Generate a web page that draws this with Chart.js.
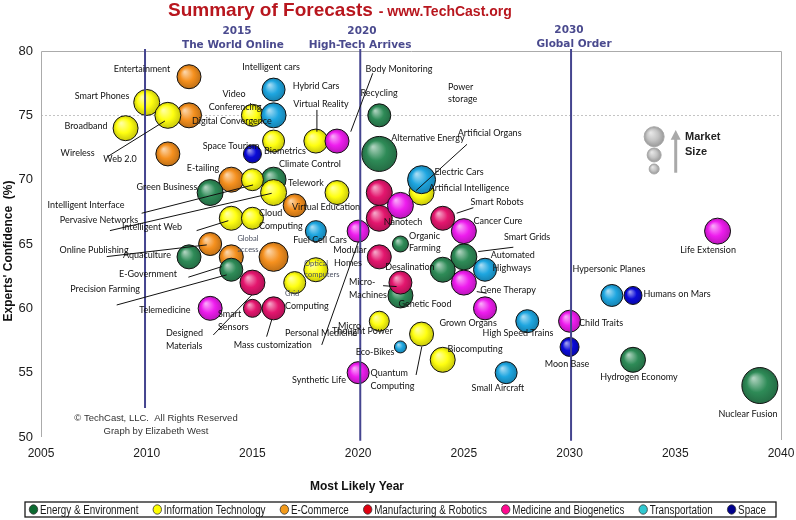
<!DOCTYPE html>
<html lang="en">
<head>
<meta charset="UTF-8">
<title>Summary of Forecasts - TechCast</title>
<style>
    html, body { margin: 0; padding: 0; background: #fff; }
    #wrap { width: 796px; height: 520px; }
</style>
</head>
<body>
<div id="wrap"><canvas id="forecastChart" width="796" height="520"></canvas></div>

<script src="https://cdn.jsdelivr.net/npm/chart.js@4"></script>
<script>
// [technology, most likely year, experts' confidence %, market size (bubble radius)]
const energy = [
    ['Climate Control', 2016, 70, 12.5],
    ['Green Business', 2013, 69, 13],
    ['Aquaculture', 2012, 64, 12],
    ['Precision Farming', 2014, 63, 11.5],
    ['Recycling', 2021, 75, 11.5],
    ['Alternative Energy', 2021, 72, 17.5],
    ['Organic Farming', 2022, 65, 8],
    ['Smart Grids', 2025, 64, 13],
    ['Desalination', 2024, 63, 12.5],
    ['Genetic Food', 2022, 61, 12.5],
    ['Hydrogen Economy', 2033, 56, 12.5],
    ['Nuclear Fusion', 2039, 54, 18]
];
const infoTech = [
    ['Broadband', 2009, 74, 12.5],
    ['Smart Phones', 2010, 76, 13],
    ['Web 2.0', 2011, 75, 13],
    ['Video Conferencing', 2015, 75, 11],
    ['Biometrics', 2016, 73, 11],
    ['Virtual Reality', 2018, 73, 12],
    ['Intelligent Interface', 2015, 70, 11],
    ['Pervasive Networks', 2016, 69, 13],
    ['Thought Power', 2019, 69, 12],
    ['Intelligent Web', 2014, 67, 12],
    ['Cloud Computing', 2015, 67, 11],
    ['Optical Computers', 2018, 63, 12],
    ['Grid Computing', 2017, 62, 11],
    ['Artificial Intelligence', 2023, 69, 12.5],
    ['Micro Power', 2021, 59, 10],
    ['Quantum Computing', 2023, 58, 12],
    ['Biocomputing', 2024, 56, 12.5]
];
const eCommerce = [
    ['Entertainment', 2012, 78, 12],
    ['Digital Convergence', 2012, 75, 12.5],
    ['Wireless', 2011, 72, 12],
    ['E-tailing', 2014, 70, 12.5],
    ['Virtual Education', 2017, 68, 11.5],
    ['Online Publishing', 2013, 65, 11.5],
    ['E-Government', 2014, 64, 12],
    ['Global Access', 2016, 64, 14.5]
];
const manufacturing = [
    ['Designed Materials', 2015, 62, 12.5],
    ['Smart Sensors', 2015, 60, 9],
    ['Mass Customization', 2016, 60, 11.5],
    ['Intelligent Machines', 2021, 69, 13],
    ['Nanotech', 2021, 67, 13],
    ['Smart Robots', 2024, 67, 12],
    ['Modular Homes', 2021, 64, 12],
    ['Micro-Machines', 2022, 62, 11.5]
];
const medicine = [
    ['Body Monitoring', 2019, 73, 12],
    ['Telemedicine', 2013, 60, 12],
    ['Artificial Organs', 2022, 68, 13],
    ['Personal Medicine', 2020, 66, 11],
    ['Cancer Cure', 2025, 66, 12.5],
    ['Gene Therapy', 2025, 62, 12.5],
    ['Grown Organs', 2026, 60, 11.5],
    ['Synthetic Life', 2020, 55, 11],
    ['Life Extension', 2037, 66, 13],
    ['Child Traits', 2030, 59, 11]
];
const transport = [
    ['Intelligent Cars', 2016, 77, 11.5],
    ['Hybrid Cars', 2016, 75, 12.5],
    ['Fuel Cell Cars', 2018, 66, 10.5],
    ['Electric Cars', 2023, 70, 14],
    ['Automated Highways', 2026, 63, 11.5],
    ['High Speed Trains', 2028, 59, 11.5],
    ['Eco-Bikes', 2022, 57, 6],
    ['Small Aircraft', 2027, 55, 11],
    ['Hypersonic Planes', 2032, 61, 11]
];
const space = [
    ['Space Tourism', 2015, 72, 9],
    ['Humans on Mars', 2033, 61, 9],
    ['Moon Base', 2030, 57, 9.5]
];
// "Market Size" key bubbles
const marketKey = [['large', 2034, 73.34, 10], ['medium', 2034, 71.92, 7], ['small', 2034, 70.83, 5]];

const categories = ['Energy & Environment', 'Information Technology', 'E-Commerce',
    'Manufacturing & Robotics', 'Medicine and Biogenetics', 'Transportation', 'Space'];
const seriesRows = [energy, infoTech, eCommerce, manufacturing, medicine, transport, space];
const bubbleColors = ['#2e8b57', '#ffff10', '#f5901e', '#e4166e', '#ee1cee', '#1ea6e0', '#0a0ad8'];
const legendColors = ['#0b6a30', '#ffff00', '#f39a1a', '#e00010', '#ff0a90', '#30c8d0', '#00008e'];
const drawOrder = [5, 4, 6, 3, 2, 1, 0];

const yearTicks = [2005, 2010, 2015, 2020, 2025, 2030, 2035, 2040];
const confTicks = [50, 55, 60, 65, 70, 75, 80];

// text annotations: [text, year, confidence]
const labels = [
    ['Entertainment', 2009.78, 78.6], ['Intelligent cars', 2015.88, 78.78], ['Smart Phones', 2007.89, 76.5],
    ['Hybrid Cars', 2018.01, 77.28], ['Video', 2014.13, 76.66], ['Conferencing', 2014.18, 75.67],
    ['Virtual Reality', 2018.24, 75.91], ['Broadband', 2007.13, 74.2], ['Digital Convergence', 2014.03, 74.58],
    ['Wireless', 2006.73, 72.05], ['Web 2.0', 2008.74, 71.61], ['Space Tourism', 2013.99, 72.64],
    ['Biometrics', 2016.54, 72.23], ['Climate Control', 2017.72, 71.2], ['E-tailing', 2012.66, 70.93],
    ['Body Monitoring', 2021.93, 78.6], ['Recycling', 2020.99, 76.76], ['Alternative Energy', 2023.3, 73.22],
    ['Artificial Organs', 2026.22, 73.61], ['Electric Cars', 2024.77, 70.62], ['Artificial Intelligence', 2025.24, 69.33],
    ['Smart Robots', 2026.57, 68.24], ['Green Business', 2010.96, 69.41], ['Telework', 2017.53, 69.72],
    ['Intelligent Interface', 2007.13, 68.03], ['Virtual Education', 2018.48, 67.86], ['Pervasive Networks', 2007.74, 66.87],
    ['Intelligent Web', 2010.25, 66.3], ['Fuel Cell Cars', 2018.2, 65.31], ['Online Publishing', 2007.51, 64.54],
    ['Aquaculture', 2010.01, 64.15], ['Modular', 2019.61, 64.54], ['Homes', 2019.52, 63.5],
    ['E-Government', 2010.06, 62.67], ['Precision Farming', 2008.03, 61.48], ['Telemedicine', 2010.86, 59.88],
    ['Mass customization', 2015.96, 57.16], ['Nanotech', 2022.12, 66.69], ['Cancer Cure', 2026.61, 66.81],
    ['Smart Grids', 2027.99, 65.57], ['Desalination', 2022.45, 63.24], ['Gene Therapy', 2027.09, 61.38],
    ['Genetic Food', 2023.16, 60.34], ['Grown Organs', 2025.2, 58.89], ['High Speed Trains', 2027.56, 58.11],
    ['Child Traits', 2031.49, 58.89], ['Eco-Bikes', 2020.8, 56.59], ['Biocomputing', 2025.53, 56.82],
    ['Synthetic Life', 2018.15, 54.44], ['Small Aircraft', 2026.61, 53.79], ['Moon Base', 2029.88, 55.66],
    ['Life Extension', 2036.55, 64.54], ['Hypersonic Planes', 2031.86, 63.04], ['Humans on Mars', 2035.08, 61.12],
    ['Hydrogen Economy', 2033.28, 54.65], ['Nuclear Fusion', 2038.44, 51.77]
];
// left-aligned annotations
const leftLabels = [
    ['Power', 2024.25, 77.23], ['storage', 2024.25, 76.25], ['Cloud', 2015.31, 67.44], ['Computing', 2015.31, 66.43],
    ['Micro-', 2019.57, 62.07], ['Machines', 2019.57, 61.04], ['Computing', 2016.54, 60.21],
    ['Smart', 2013.37, 59.56], ['Sensors', 2013.37, 58.58], ['Designed', 2010.91, 58.07], ['Materials', 2010.91, 57.1],
    ['Personal Medicine', 2016.54, 58.07], ['Micro', 2019.05, 58.63], ['Thought Power', 2018.76, 58.24],
    ['Organic', 2022.41, 65.65], ['Farming', 2022.41, 64.67], ['Automated', 2026.27, 64.15], ['Highways', 2026.36, 63.16],
    ['Quantum', 2020.59, 54.96], ['Computing', 2020.59, 53.92]
];
const smallLabels = [
    ['Global', 2014.79, 65.45, 'center'], ['access', 2014.79, 64.54, 'center'],
    ['Optical', 2018.01, 63.5, 'center'], ['computers', 2018.29, 62.6, 'center'], ['Grid', 2016.54, 61.12, 'left']
];
// leader lines: [year1, conf1, year2, conf2]
const leaders = [
    [2008.15, 71.79, 2010.86, 74.56], [2020.69, 78.27, 2019.65, 73.73], [2018.05, 75.42, 2018.05, 73.73],
    [2025.15, 72.75, 2022.74, 69.15], [2009.76, 67.39, 2015.03, 69.59], [2008.26, 66.04, 2015.91, 68.94],
    [2012.36, 66.04, 2013.86, 66.81], [2008.11, 64.02, 2012.84, 64.93], [2011.97, 62.42, 2013.55, 63.24],
    [2008.58, 60.26, 2013.78, 62.6], [2013.15, 57.93, 2014.97, 61.04], [2015.67, 57.8, 2015.91, 59.1],
    [2018.28, 57.16, 2020.01, 65.18], [2021.18, 61.76, 2021.82, 61.69], [2024.66, 67.39, 2025.45, 67.82],
    [2025.68, 64.41, 2027.34, 64.75], [2025.61, 61.3, 2026.08, 61.17], [2022.74, 54.82, 2023.01, 57.02]
];
// era divider lines [year, lower end] and headings
const eraLines = [[2009.92, 52.26], [2020.1, 49.7], [2030.07, 49.7]];
const eraText = [
    ['2015', 2014.27, 81.55], ['The World Online', 2014.08, 80.47],
    ['2020', 2020.18, 81.55], ['High-Tech Arrives', 2020.09, 80.47],
    ['2030', 2029.97, 81.63], ['Global Order', 2030.21, 80.54]
];

const LABEL_FONT = '9px Lato, "Open Sans", sans-serif';
const SMALL_FONT = '7.5px Lato, "Open Sans", sans-serif';
const LEGEND_FONT = '12px "Liberation Sans", Arial, sans-serif';
const LEGEND_SQUEEZE = 0.82;

function shade(hex, amt) {
    const n = parseInt(hex.slice(1), 16);
    const t = amt < 0 ? 0 : 255, p = Math.abs(amt);
    const c = [n >> 16, (n >> 8) & 255, n & 255].map(v => Math.round((t - v) * p + v));
    return 'rgb(' + c.join(',') + ')';
}

function ballFill(base) {
    return function (ctx) {
        if (ctx.type !== 'data') return base;
        const ch = ctx.chart, raw = ctx.raw;
        const xs = ch.scales.x, ys = ch.scales.y;
        if (!xs || !ys || !raw) return base;
        const x = xs.getPixelForValue(raw.x), y = ys.getPixelForValue(raw.y), r = raw.r;
        if (!isFinite(x) || !isFinite(y) || !(r > 0)) return base;
        const g = ch.ctx.createRadialGradient(x - r * 0.35, y - r * 0.4, r * 0.05, x, y, r);
        g.addColorStop(0, shade(base, 0.6));
        g.addColorStop(0.55, base);
        g.addColorStop(1, shade(base, -0.22));
        return g;
    };
}

const toPoints = rows => rows.map(r => ({ x: r[1], y: r[2], r: r[3], name: r[0] }));

const datasets = seriesRows.map((rows, i) => ({
    label: categories[i],
    data: toPoints(rows),
    backgroundColor: ballFill(bubbleColors[i]),
    borderColor: '#111',
    borderWidth: 1,
    order: drawOrder[i]
}));
datasets.push({
    label: 'Market Size',
    data: toPoints(marketKey),
    backgroundColor: ballFill('#c4c4c4'),
    borderColor: '#a8a8a8',
    borderWidth: 1,
    order: 7
});

const backdrop = {
    id: 'backdrop',
    beforeDatasetsDraw(chart) {
        const { ctx, chartArea: a, scales: { y } } = chart;
        ctx.save();
        ctx.strokeStyle = '#c4c4c4';
        ctx.setLineDash([2, 2]);
        ctx.lineWidth = 1;
        const y75 = Math.round(y.getPixelForValue(75)) + 0.5;
        ctx.beginPath(); ctx.moveTo(a.left, y75); ctx.lineTo(a.right, y75); ctx.stroke();
        ctx.setLineDash([]);
        ctx.strokeStyle = '#ababab';
        ctx.beginPath();
        ctx.moveTo(a.left + 0.5, a.bottom);
        ctx.lineTo(a.left + 0.5, a.top + 0.5);
        ctx.lineTo(a.right + 0.5, a.top + 0.5);
        ctx.lineTo(a.right + 0.5, a.bottom + 3);
        ctx.stroke();
        ctx.restore();
    }
};

const annotate = {
    id: 'annotate',
    afterDatasetsDraw(chart) {
        const { ctx, scales: { x, y } } = chart;
        const px = v => x.getPixelForValue(v), py = v => y.getPixelForValue(v);
        ctx.save();

        // era divider lines
        ctx.strokeStyle = '#45458f';
        ctx.lineWidth = 2;
        eraLines.forEach(([yr, low]) => {
            ctx.beginPath(); ctx.moveTo(px(yr), py(80.15)); ctx.lineTo(px(yr), py(low)); ctx.stroke();
        });
        ctx.fillStyle = '#4a4a8e';
        ctx.font = 'bold 10.5px "DejaVu Sans", Verdana, sans-serif';
        ctx.textAlign = 'center';
        ctx.textBaseline = 'middle';
        eraText.forEach(([t, yr, c]) => ctx.fillText(t, px(yr), py(c)));

        // Market Size arrow
        ctx.strokeStyle = '#a9a9a9';
        ctx.fillStyle = '#a9a9a9';
        ctx.lineWidth = 3;
        ctx.beginPath(); ctx.moveTo(px(2035.02), py(70.54)); ctx.lineTo(px(2035.02), py(73.3)); ctx.stroke();
        ctx.beginPath();
        ctx.moveTo(px(2035.02), py(73.86));
        ctx.lineTo(px(2035.02) - 5, py(73.1));
        ctx.lineTo(px(2035.02) + 5, py(73.1));
        ctx.closePath(); ctx.fill();
        ctx.fillStyle = '#222';
        ctx.font = 'bold 11px "Liberation Sans", Arial, sans-serif';
        ctx.textAlign = 'left';
        ctx.fillText('Market', px(2035.46), py(73.34));
        ctx.fillText('Size', px(2035.46), py(72.18));

        // leader lines
        ctx.strokeStyle = '#111';
        ctx.lineWidth = 1;
        leaders.forEach(([x1, y1, x2, y2]) => {
            ctx.beginPath(); ctx.moveTo(px(x1), py(y1)); ctx.lineTo(px(x2), py(y2)); ctx.stroke();
        });

        // technology labels
        ctx.fillStyle = '#111';
        ctx.font = LABEL_FONT;
        ctx.textAlign = 'center';
        labels.forEach(([t, yr, c]) => ctx.fillText(t, px(yr), py(c)));
        ctx.textAlign = 'left';
        leftLabels.forEach(([t, yr, c]) => ctx.fillText(t, px(yr), py(c)));
        ctx.fillStyle = '#4a5060';
        ctx.font = SMALL_FONT;
        smallLabels.forEach(([t, yr, c, al]) => { ctx.textAlign = al; ctx.fillText(t, px(yr), py(c)); });

        // copyright
        ctx.fillStyle = '#333';
        ctx.font = '9.5px "Liberation Sans", Arial, sans-serif';
        ctx.textAlign = 'center';
        ctx.fillText('\u00A9 TechCast, LLC.  All Rights Reserved', px(2010.44), py(51.48));
        ctx.fillText('Graph by Elizabeth West', px(2010.44), py(50.4));
        ctx.restore();
    },
    afterDraw(chart) {
        const { ctx } = chart;
        ctx.save();
        // title
        ctx.textBaseline = 'alphabetic';
        ctx.textAlign = 'left';
        ctx.fillStyle = '#b8161e';
        ctx.font = 'bold 19px "Liberation Sans", Arial, sans-serif';
        ctx.fillText('Summary of Forecasts', 168, 16);
        const tw = ctx.measureText('Summary of Forecasts').width;
        ctx.font = 'bold 14px "Liberation Sans", Arial, sans-serif';
        ctx.fillText(' - www.TechCast.org', 168 + tw + 2, 16);

        // axis titles
        ctx.fillStyle = '#111';
        ctx.font = 'bold 12px "Liberation Sans", Arial, sans-serif';
        ctx.textAlign = 'center';
        ctx.textBaseline = 'middle';
        ctx.fillText('Most Likely Year', 357, 487);
        ctx.translate(9, 251);
        ctx.rotate(-Math.PI / 2);
        ctx.fillText("Experts' Confidence  (%)", 0, 0);
        ctx.setTransform(1, 0, 0, 1, 0, 0);

        // legend box (text squeezed horizontally like a narrow face)
        const L = 25, R = 776, T = 502, B = 517, mid = (T + B) / 2;
        ctx.strokeStyle = '#1a1a1a';
        ctx.lineWidth = 1.3;
        ctx.strokeRect(L, T, R - L, B - T);
        ctx.font = LEGEND_FONT;
        ctx.textAlign = 'left';
        const widths = categories.map(c => ctx.measureText(c).width * LEGEND_SQUEEZE);
        const dot = 9, gap = 2;
        const content = widths.reduce((s, w) => s + w + dot + gap, 0);
        const spacing = (R - L - 14 - content) / (categories.length - 1);
        let cx = L + 4;
        categories.forEach((c, i) => {
            ctx.beginPath();
            ctx.ellipse(cx + dot / 2, mid, 4.2, 4.7, 0, 0, Math.PI * 2);
            ctx.fillStyle = legendColors[i];
            ctx.fill();
            ctx.lineWidth = 0.8;
            ctx.strokeStyle = '#333';
            ctx.stroke();
            ctx.fillStyle = '#1a1a1a';
            ctx.save();
            ctx.translate(cx + dot + gap, mid + 1);
            ctx.scale(LEGEND_SQUEEZE, 1);
            ctx.fillText(c, 0, 0);
            ctx.restore();
            cx += dot + gap + widths[i] + spacing;
        });
        ctx.restore();
    }
};

new Chart(document.getElementById('forecastChart'), {
    type: 'bubble',
    data: { datasets: datasets },
    options: {
        responsive: false,
        animation: false,
        events: [],
        layout: { autoPadding: false, padding: { top: 51, right: 15, left: 0, bottom: 0 } },
        plugins: {
            legend: { display: false },
            tooltip: { enabled: false }
        },
        scales: {
            x: {
                type: 'linear',
                min: yearTicks[0],
                max: yearTicks[yearTicks.length - 1],
                afterBuildTicks: s => { s.ticks = yearTicks.map(v => ({ value: v })); },
                afterFit: s => { s.height = 83; s.paddingLeft = 0; s.paddingRight = 0; },
                grid: { display: false, drawTicks: false },
                border: { display: false },
                ticks: {
                    padding: 9,
                    color: '#1a1a1a',
                    font: { family: '"Liberation Sans", Arial, sans-serif', size: 12 },
                    callback: v => String(v)
                }
            },
            y: {
                min: confTicks[0],
                max: confTicks[confTicks.length - 1],
                afterBuildTicks: s => { s.ticks = confTicks.map(v => ({ value: v })); },
                afterFit: s => { s.width = 41; s.paddingTop = 0; s.paddingBottom = 0; },
                grid: { display: false, drawTicks: false },
                border: { display: false },
                ticks: {
                    padding: 8,
                    color: '#1a1a1a',
                    font: { family: '"Liberation Sans", Arial, sans-serif', size: 13 }
                }
            }
        }
    },
    plugins: [backdrop, annotate]
});
</script>
</body>
</html>
